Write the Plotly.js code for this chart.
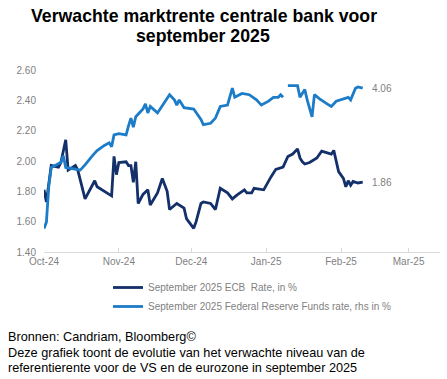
<!DOCTYPE html>
<html>
<head>
<meta charset="utf-8">
<script src="https://cdn.plot.ly/plotly-3.0.1.min.js"></script>
<style>
html,body{margin:0;padding:0;background:#fff;}
#chart{width:447px;height:379px;}
</style>
</head>
<body>
<div id="chart"></div>
<script>
// ECB: expected policy rate for September 2025 (left axis, %)
var ecbDates = ["2024-10-01","2024-10-02","2024-10-04","2024-10-07","2024-10-08","2024-10-10","2024-10-11","2024-10-14","2024-10-15","2024-10-18","2024-10-22","2024-10-23","2024-10-28","2024-10-29","2024-10-30","2024-10-31","2024-11-01","2024-11-04","2024-11-05","2024-11-06","2024-11-07","2024-11-08","2024-11-09","2024-11-11","2024-11-13","2024-11-14","2024-11-17","2024-11-19","2024-11-21","2024-11-22","2024-11-25","2024-11-28","2024-11-29","2024-12-02","2024-12-03","2024-12-05","2024-12-06","2024-12-09","2024-12-11","2024-12-13","2024-12-16","2024-12-18","2024-12-20","2024-12-23","2024-12-24","2024-12-26","2024-12-27","2024-12-31","2025-01-03","2025-01-05","2025-01-08","2025-01-10","2025-01-12","2025-01-14","2025-01-15","2025-01-16","2025-01-17","2025-01-19","2025-01-22","2025-01-24","2025-01-26","2025-01-28","2025-01-29","2025-01-31","2025-02-02","2025-02-03","2025-02-04","2025-02-05","2025-02-06","2025-02-08","2025-02-10"];
var ecbValues = [1.81,1.73,1.97,1.96,1.99,2.14,1.94,1.97,1.94,1.75,1.87,1.83,1.78,1.77,2.03,1.91,1.99,1.995,1.97,1.97,1.86,1.995,1.72,1.78,1.81,1.71,1.79,1.885,1.80,1.68,1.72,1.69,1.62,1.556,1.60,1.72,1.73,1.72,1.68,1.82,1.79,1.75,1.776,1.81,1.79,1.79,1.82,1.81,1.895,1.945,1.96,2.03,2.046,2.08,2.02,1.995,1.98,1.99,2.02,2.065,2.055,2.045,2.07,1.93,1.885,1.83,1.87,1.84,1.865,1.855,1.86];

// Fed: expected fed funds rate for September 2025 (right axis, hidden, %)
var fedDates = ["2024-10-01","2024-10-02","2024-10-03","2024-10-04","2024-10-06","2024-10-08","2024-10-09","2024-10-10","2024-10-16","2024-10-18","2024-10-21","2024-10-23","2024-10-26","2024-10-28","2024-10-29","2024-10-30","2024-11-01","2024-11-04","2024-11-05","2024-11-06","2024-11-07","2024-11-08","2024-11-11","2024-11-12","2024-11-13","2024-11-14","2024-11-17","2024-11-22","2024-11-24","2024-11-25","2024-11-26","2024-11-28","2024-12-02","2024-12-05","2024-12-06","2024-12-09","2024-12-11","2024-12-13","2024-12-16","2024-12-18","2024-12-19","2024-12-22","2024-12-25","2024-12-28","2024-12-30","2025-01-02","2025-01-04","2025-01-06","2025-01-07","2025-01-08","2025-01-09","2025-01-10","2025-01-14","2025-01-15","2025-01-17","2025-01-18","2025-01-20","2025-01-21","2025-01-23","2025-01-27","2025-01-28","2025-01-30","2025-02-02","2025-02-04","2025-02-05","2025-02-07","2025-02-08","2025-02-10"];
var fedValues = [2.98,3.03,3.31,3.45,3.47,3.49,3.54,3.45,3.43,3.47,3.54,3.58,3.62,3.64,3.61,3.70,3.71,3.70,3.77,3.83,3.76,3.84,3.90,3.94,3.87,3.92,3.87,4.01,3.97,3.93,3.97,3.91,3.90,3.82,3.78,3.79,3.83,3.92,3.93,4.06,3.99,4.02,4.01,3.97,3.93,3.96,3.99,3.99,4.01,3.99,null,4.08,4.08,3.99,4.05,3.97,3.84,4.01,3.98,3.93,3.92,3.96,3.98,3.99,3.97,4.06,4.07,4.06];

var monthTicks = ["2024-10-01","2024-11-01","2024-12-01","2025-01-01","2025-02-01","2025-03-01"];
var monthLabels = ["Oct-24","Nov-24","Dec-24","Jan-25","Feb-25","Mar-25"];
var yTicks = [1.40,1.60,1.80,2.00,2.20,2.40,2.60];

var seriesNames = ["September 2025 ECB  Rate, in %","September 2025 Federal Reserve Funds rate, rhs in %"];
var titleLines = ["Verwachte marktrente centrale bank voor","september 2025"];
var footerLines = ["Bronnen: Candriam, Bloomberg©","Deze grafiek toont de evolutie van het verwachte niveau van de","referentierente voor de VS en de eurozone in september 2025"];

var FONT = "Liberation Sans, Arial, sans-serif";
var ecbColor = "#13306a";
var fedColor = "#1c7cc7";

var traces = [
  {x: ecbDates, y: ecbValues, type: "scatter", mode: "lines", name: seriesNames[0],
   line: {color: ecbColor, width: 2.8}, yaxis: "y", connectgaps: false},
  {x: fedDates, y: fedValues, type: "scatter", mode: "lines", name: seriesNames[1],
   line: {color: fedColor, width: 2.8}, yaxis: "y2", connectgaps: false}
];

var W = 447, H = 379, L = 44, R = 7, T = 70, B = 127;
var pw = W - L - R, ph = H - T - B;
function px(x){ return (x - L) / pw; }
function py(y){ return (H - B - y) / ph; }

var annotations = [
  {text: "<b>" + titleLines[0] + "</b>", xref: "paper", yref: "paper", x: px(204), y: py(16), xanchor: "center", yanchor: "middle", showarrow: false, font: {family: FONT, size: 17.7, color: "#000"}},
  {text: "<b>" + titleLines[1] + "</b>", xref: "paper", yref: "paper", x: px(203), y: py(36), xanchor: "center", yanchor: "middle", showarrow: false, font: {family: FONT, size: 17.7, color: "#000"}},
  {text: ecbValues[ecbValues.length-1].toFixed(2), xref: "paper", yref: "y", x: px(370), y: ecbValues[ecbValues.length-1], xanchor: "left", yanchor: "middle", showarrow: false, font: {family: FONT, size: 10, color: "#7f7f7f"}},
  {text: fedValues[fedValues.length-1].toFixed(2), xref: "paper", yref: "y2", x: px(370), y: fedValues[fedValues.length-1], xanchor: "left", yanchor: "middle", showarrow: false, font: {family: FONT, size: 10, color: "#7f7f7f"}}
];
var footY = [337, 353, 368];
footerLines.forEach(function(t, i){
  annotations.push({text: t, xref: "paper", yref: "paper", x: px(6), y: py(footY[i]), xanchor: "left", yanchor: "middle", align: "left", showarrow: false, font: {family: FONT, size: 12.7, color: "#000"}});
});

var layout = {
  width: W, height: H,
  margin: {l: L, r: R, t: T, b: B, pad: 0},
  paper_bgcolor: "#fff", plot_bgcolor: "#fff",
  font: {family: FONT, size: 10, color: "#595959"},
  showlegend: true,
  legend: {x: px(108), y: py(273), xanchor: "left", yanchor: "top", orientation: "v",
           font: {family: FONT, size: 10, color: "#7f7f7f"}, bgcolor: "rgba(0,0,0,0)", tracegroupgap: 0},
  xaxis: {type: "date", range: ["2024-10-01", "2025-03-14"], tickvals: monthTicks, ticktext: monthLabels,
          showgrid: false, zeroline: false, showline: true, linecolor: "#d9d9d9", linewidth: 1,
          ticks: "inside", ticklen: 4, tickcolor: "#d9d9d9", tickfont: {family: FONT, size: 10, color: "#7f7f7f"}, fixedrange: true},
  yaxis: {range: [1.40, 2.60], tickvals: yTicks, tickformat: ".2f", showgrid: false, zeroline: false,
          showline: false, ticks: "", ticklabelstandoff: 7, tickfont: {family: FONT, size: 10, color: "#7f7f7f"}},
  yaxis2: {range: [2.8, 4.2], overlaying: "y", side: "right", visible: false, showgrid: false, zeroline: false},
  annotations: annotations
};

Plotly.newPlot("chart", traces, layout, {staticPlot: true, displayModeBar: false});
</script>
</body>
</html>
